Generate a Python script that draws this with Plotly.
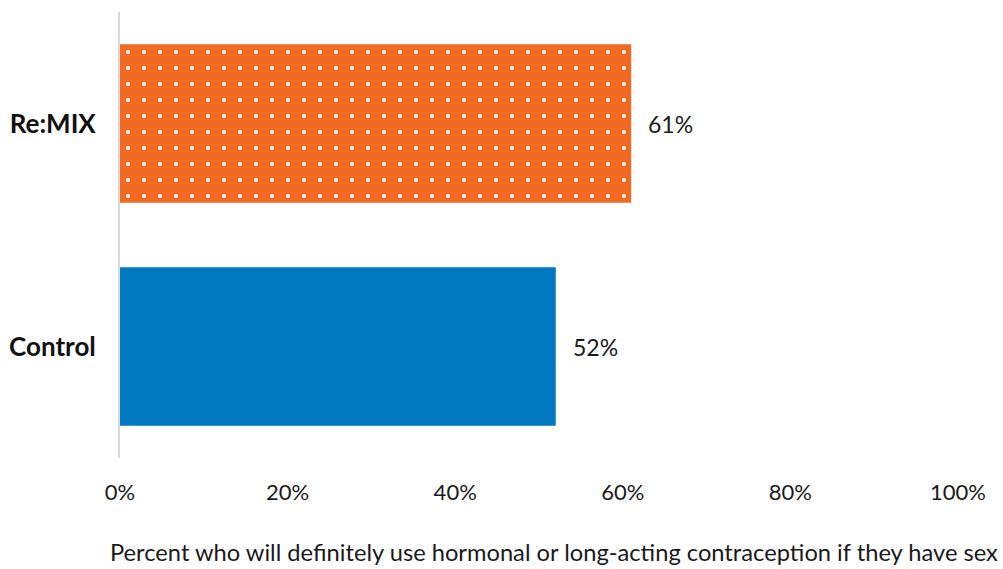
import plotly.graph_objects as go

categories = ["Control", "Re:MIX"]
values = [52, 61]
value_labels = ["52%", "61%"]
tick_vals = [0, 20, 40, 60, 80, 100]
tick_text = ["0%", "20%", "40%", "60%", "80%", "100%"]
axis_title = "Percent who will definitely use hormonal or long-acting contraception if they have sex"

bar_colors = ["#0079C1", "#F26922"]
pattern_shapes = ["", "."]

fig = go.Figure()
for c, v, col, shp in zip(categories, values, bar_colors, pattern_shapes):
    fig.add_trace(go.Bar(
        y=[c], x=[v], orientation="h", name=c,
        marker=dict(color=col, line=dict(width=0),
                    pattern=dict(shape=shp, fgcolor="#FFFFFF", bgcolor=col,
                                 fgopacity=1, size=16, solidity=0.05, fillmode="replace")),
        hoverinfo="skip",
    ))

for c, v, t in zip(categories, values, value_labels):
    fig.add_annotation(x=v, y=c, text=t, showarrow=False, xanchor="left",
                       xshift=15, font=dict(family="Lato", size=23, color="#1a1a1a"))

fig.add_annotation(x=(1000 - 120) / 838, xref="paper", y=-(552 - 458) / 446, yref="paper",
                   text=axis_title, showarrow=False, xanchor="right", yanchor="middle",
                   font=dict(family="Lato", size=23.7, color="#1a1a1a"))

fig.update_layout(
    width=1003, height=569,
    margin=dict(l=120, r=45, t=12, b=111),
    plot_bgcolor="white", paper_bgcolor="white",
    barmode="overlay", bargap=0.29, showlegend=False,
    font=dict(family="Lato", color="#1a1a1a"),
    xaxis=dict(range=[0, 100], tickvals=tick_vals, ticktext=tick_text, automargin=False,
               showgrid=False, zeroline=False, showline=False, ticks="",
               ticklabelstandoff=19, tickfont=dict(family="Lato", size=22, color="#1a1a1a")),
    yaxis=dict(categoryorder="array", categoryarray=categories,
               showgrid=False, zeroline=False, showline=True, linecolor="#D9D9D9",
               linewidth=2, ticks="", ticklabelstandoff=17, automargin=False,
               tickfont=dict(family="Lato", size=26, color="#111111", weight="bold")),
)

fig.write_html("out.html")
